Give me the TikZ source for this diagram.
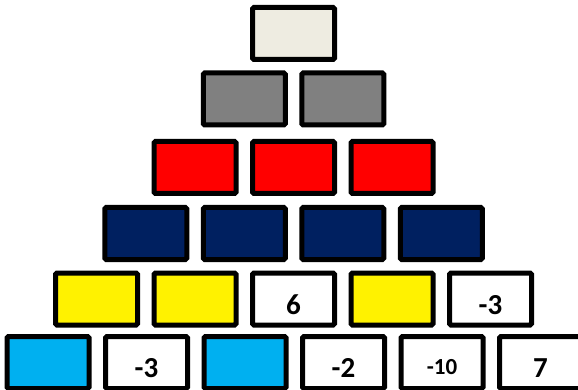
\documentclass[tikz,border=0pt]{standalone}
\usepackage{fontspec}
\setmainfont{Carlito}
\usetikzlibrary{positioning}

\definecolor{cream}{HTML}{EEECE1}
\definecolor{navy}{HTML}{002060}
\definecolor{skyblue}{HTML}{00B0F0}

\begin{document}
\begin{tikzpicture}[
  x=1pt,y=-1pt,
  brick/.style={draw=black,line width=5pt,rounded corners=1.5pt,minimum width=82pt,minimum height=52pt,inner sep=0pt,
    font=\fontsize{29}{30}\selectfont\bfseries,text height=30pt,text depth=0pt},
  small/.style={font=\fontsize{23}{24}\selectfont\bfseries,text height=23pt},
  node distance=11.5pt,
]
\useasboundingbox (0,0) rectangle (578,390);

% row 1
\node[brick,fill=cream] (r1a) at (293.5,33.5) {};

% row 2
\node[brick,fill=gray] (r2a) at (244.25,99) {};
\node[brick,fill=gray,right=of r2a] (r2b) {};

% row 3
\node[brick,fill=red] (r3a) at (195,167.5) {};
\node[brick,fill=red,right=of r3a] (r3b) {};
\node[brick,fill=red,right=of r3b] (r3c) {};

% row 4
\node[brick,fill=navy] (r4a) at (145.75,233.5) {};
\node[brick,fill=navy,right=of r4a] (r4b) {};
\node[brick,fill=navy,right=of r4b] (r4c) {};
\node[brick,fill=navy,right=of r4c] (r4d) {};

% row 5
\node[brick,fill=yellow] (r5a) at (96.5,299) {};
\node[brick,fill=yellow,right=of r5a] (r5b) {};
\node[brick,fill=white,right=of r5b] (r5c) {6};
\node[brick,fill=yellow,right=of r5c] (r5d) {};
\node[brick,fill=white,right=of r5d] (r5e) {-3};

% row 6 (bottom)
\node[brick,fill=skyblue] (r6a) at (48,362.5) {};
\node[brick,fill=white,right=of r6a] (r6b) {-3};
\node[brick,fill=skyblue,right=of r6b] (r6c) {};
\node[brick,fill=white,right=of r6c] (r6d) {-2};
\node[brick,small,fill=white,right=of r6d] (r6e) {-10};
\node[brick,fill=white,right=of r6e] (r6f) {7};
\end{tikzpicture}
\end{document}
